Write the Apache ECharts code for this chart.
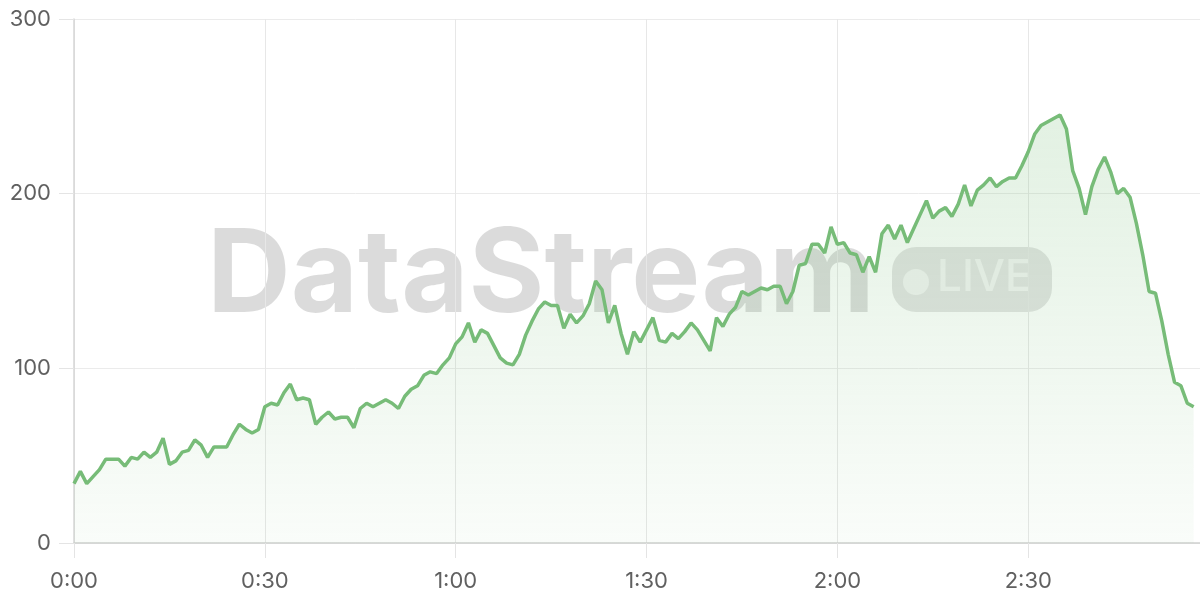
<!DOCTYPE html>
<html>
<head>
<meta charset="utf-8">
<style>
  html, body { margin: 0; padding: 0; background: #ffffff; }
  #chart { width: 1200px; height: 600px; }
</style>
<script src="https://cdn.jsdelivr.net/npm/echarts@6/dist/echarts.min.js"></script>
</head>
<body>
<div id="chart"></div>
<script>
// Values, one per minute starting at 0:00
var values = [
  34, 41, 34, 38, 42, 48, 48, 48, 44, 49,
  48, 52, 49, 52, 60, 45, 47, 52, 53, 59,
  56, 49, 55, 55, 55, 62, 68, 65, 63, 65,
  78, 80, 79, 86, 91, 82, 83, 82, 68, 72,
  75, 71, 72, 72, 66, 77, 80, 78, 80, 82,
  80, 77, 84, 88, 90, 96, 98, 97, 102, 106,
  114, 118, 126, 115, 122, 120, 113, 106, 103, 102,
  108, 119, 127, 134, 138, 136, 136, 123, 131, 126,
  130, 137, 150, 145, 126, 136, 120, 108, 121, 115,
  122, 129, 116, 115, 120, 117, 121, 126, 122, 116,
  110, 129, 124, 131, 135, 144, 142, 144, 146, 145,
  147, 147, 137, 144, 159, 160, 171, 171, 166, 181,
  171, 172, 166, 165, 155, 164, 155, 177, 182, 174,
  182, 172, 180, 188, 196, 186, 190, 192, 187, 194,
  205, 193, 202, 205, 209, 204, 207, 209, 209, 216,
  224, 234, 239, 241, 243, 245, 237, 213, 203, 188,
  204, 214, 221, 212, 200, 203, 198, 183, 165, 144,
  143, 127, 108, 92, 90, 80, 78
];
var xTickLabels = ['0:00', '0:30', '1:00', '1:30', '2:00', '2:30'];
var yTickLabels = ['0', '100', '200', '300'];
var watermarkText = 'DataStream';
var badgeText = 'LIVE';

var seriesData = values.map(function (v, i) { return [i, v]; });

var chart = echarts.init(document.getElementById('chart'), null, { renderer: 'canvas' });
var lineColor = '#77bc78';
var option = {
  animation: false,
  grid: { left: 74, right: 0, top: 19, bottom: 57, containLabel: false },
  xAxis: {
    type: 'value',
    min: 0,
    max: 177,
    interval: 30,
    axisLine: { show: true, lineStyle: { color: '#cfd1cf', width: 1.5 } },
    axisTick: { show: true, length: 15, lineStyle: { color: '#e4e4e4' } },
    axisLabel: {
      margin: 27,
      color: '#606060',
      fontSize: 22,
      fontFamily: 'Inter',
      showMaxLabel: false,
      formatter: function (v) { return xTickLabels[Math.round(v / 30)] || ''; }
    },
    splitLine: { show: true, lineStyle: { color: '#e7e7e7', width: 1 } }
  },
  yAxis: {
    type: 'value',
    min: 0,
    max: 300,
    interval: 100,
    axisLine: { show: true, lineStyle: { color: '#d6d6d6', width: 1.5 } },
    axisTick: { show: true, length: 15, lineStyle: { color: '#e4e4e4' } },
    axisLabel: {
      margin: 23,
      color: '#606060',
      fontSize: 22,
      fontFamily: 'Inter',
      formatter: function (v) { return yTickLabels[Math.round(v / 100)]; }
    },
    splitLine: { show: true, lineStyle: { color: '#ebebeb', width: 1 } }
  },
  graphic: [
    {
      type: 'text',
      z: 0,
      left: 207,
      top: 219,
      style: {
        text: watermarkText,
        font: '700 116px Inter',
        fill: 'rgba(0,0,0,0.14)'
      }
    },
    {
      type: 'rect',
      z: 0,
      shape: { x: 892, y: 247, width: 160, height: 65, r: 24 },
      style: { fill: 'rgba(0,0,0,0.11)' }
    },
    {
      type: 'circle',
      z: 0,
      shape: { cx: 916, cy: 282, r: 13 },
      style: { fill: 'rgba(255,255,255,0.55)' }
    },
    {
      type: 'text',
      z: 0,
      left: 937,
      top: 256,
      style: {
        text: badgeText,
        font: '500 44px Inter',
        fill: 'rgba(255,255,255,0.55)'
      }
    }
  ],
  series: [
    {
      type: 'line',
      data: seriesData,
      showSymbol: false,
      symbol: 'none',
      smooth: false,
      lineStyle: { color: lineColor, width: 3.5 },
      areaStyle: {
        color: new echarts.graphic.LinearGradient(0, 0, 0, 1, [
          { offset: 0, color: 'rgba(120,189,121,0.30)' },
          { offset: 1, color: 'rgba(120,189,121,0.06)' }
        ])
      }
    }
  ]
};
chart.setOption(option);
</script>
</body>
</html>
